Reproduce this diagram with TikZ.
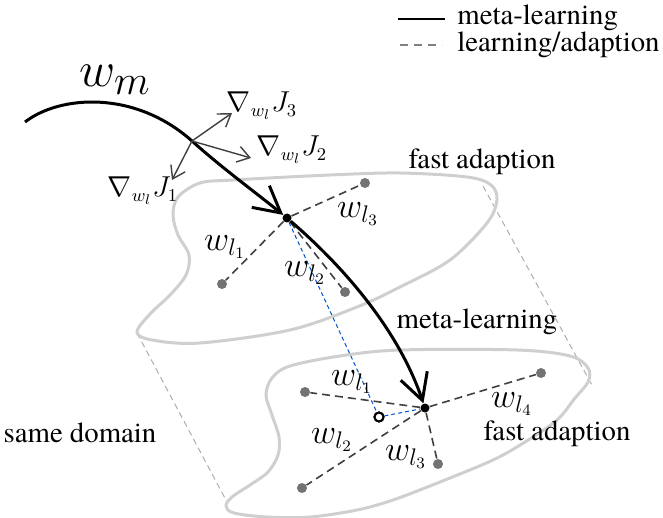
\documentclass[tikz,border=0pt]{standalone}
\usepackage{fontspec}
\setmainfont{texgyretermes}[Extension=.otf, UprightFont=*-regular, ItalicFont=*-italic, BoldFont=*-bold]
\usetikzlibrary{arrows.meta}
\begin{document}
\begin{tikzpicture}[x=0.5pt,y=-0.5pt,
  surf/.style={draw=black!19, line width=1.5pt},
  side/.style={draw=black!32, line width=0.5pt, dash pattern=on 3pt off 2pt},
  pdot/.style={circle, fill=black!55, inner sep=0pt, minimum size=5pt},
  cdot/.style={circle, fill=black, inner sep=0pt, minimum size=4.5pt},
  ring/.style={circle, draw=black, fill=white, line width=1pt, inner sep=0pt, minimum size=4.5pt},
  adapt/.style={draw=black!75, line width=0.8pt, dash pattern=on 4pt off 2.5pt},
  meta/.style={draw=black, line width=1.5pt, -{Straight Barb[length=13pt,width=14pt]}},
  grad/.style={draw=black!75, line width=0.7pt, -{Straight Barb[length=6pt,width=8pt]}},
  bluelink/.style={draw=blue!60!cyan!80!black, line width=0.5pt, dash pattern=on 2pt off 1.5pt},
  lbl/.style={font=\fontsize{14.4}{17}\selectfont, inner sep=0pt},
  mlbl/.style={font=\fontsize{17}{20}\selectfont, inner sep=0pt},
  glbl/.style={font=\fontsize{13.5}{16}\selectfont, inner sep=0pt},
]
\useasboundingbox (0,0) rectangle (663,518);

% cylinder sides joining the two task surfaces
\draw[side] (137,333) -- (227,502);
\draw[side] (483,186) -- (593,387);

% upper surface
\draw[surf] plot[smooth cycle, tension=0.55] coordinates {
  (200,183) (233,180) (330,175) (400,173) (467,177) (491,185) (497,200)
  (487,223) (450,260) (400,287) (357,307) (290,330) (200,343) (152,340)
  (137,332) (150,314) (170,295) (186,275) (189,255) (178,235) (173,215) (178,197)};

% lower surface
\draw[surf] plot[smooth cycle, tension=0.55] coordinates {
  (340,356) (400,350) (517,350) (570,356) (588,368) (588,382) (575,398)
  (557,420) (525,442) (493,460) (440,482) (393,500) (357,510) (310,517)
  (267,517) (234,513) (226,506) (232,497) (250,485) (268,472) (278,455)
  (279,437) (272,415) (266,395) (272,378) (290,366)};

% adapted parameters, upper surface
\node[cdot] (uc) at (287,218) {};
\node[pdot] (u1) at (222,284) {};
\node[pdot] (u2) at (345,292) {};
\node[pdot] (u3) at (365,183) {};
\draw[adapt] (uc) -- (u1);
\draw[adapt] (uc) -- (u2);
\draw[adapt] (uc) -- (u3);

% adapted parameters, lower surface
\node[cdot] (lc) at (425,408) {};
\node[pdot] (l1) at (305,392) {};
\node[pdot] (l2) at (302,488) {};
\node[pdot] (l3) at (438,464) {};
\node[pdot] (l4) at (541,373) {};
\draw[adapt] (lc) -- (l1);
\draw[adapt] (lc) -- (l2);
\draw[adapt] (lc) -- (l3);
\draw[adapt] (lc) -- (l4);

% projected step
\node[ring] (hc) at (379,417) {};
\draw[bluelink] (uc) -- (hc) -- (lc);
\node[ring] at (hc) {};

% meta-learning trajectory
\coordinate (ws) at (25,122);
\coordinate (g0) at (192,141);
\draw[meta] (ws) .. controls (60,95) and (135,90) .. (g0)
  .. controls (222,168) and (255,192) .. (uc);
\draw[meta] (uc) .. controls (330,255) and (395,320) .. (lc);

% task gradients
\coordinate (j1) at (172,180);
\coordinate (j2) at (251,158);
\coordinate (j3) at (232,113);
\draw[grad] (g0) -- (j1);
\draw[grad] (g0) -- (j2);
\draw[grad] (g0) -- (j3);

% labels
\node[inner sep=0pt, font=\fontsize{28}{32}\selectfont] (wm) at (115,80) {$w_m$};
\node[glbl] (t3) at (262,106) {$\nabla_{w_l}J_3$};
\node[glbl] (t2) at (292,150) {$\nabla_{w_l}J_2$};
\node[glbl] (t1) at (143,191) {$\nabla_{w_l}J_1$};

\node[mlbl] (a1) at (225,247) {$w_{l_1}$};
\node[mlbl] (a2) at (305,273) {$w_{l_2}$};
\node[mlbl] (a3) at (358,214) {$w_{l_3}$};
\node[mlbl] (b1) at (352,382) {$w_{l_1}$};
\node[mlbl] (b2) at (332,440) {$w_{l_2}$};
\node[mlbl] (b3) at (406,457) {$w_{l_3}$};
\node[mlbl] (b4) at (512,404) {$w_{l_4}$};

\node[lbl] (fa1) at (482,162) {fast adaption};
\node[lbl] (fa2) at (557,434) {fast adaption};
\node[lbl] (ml) at (477,322) {meta-learning};
\node[lbl] (sd) at (80,433) {same domain};

% legend
\coordinate (k1a) at (398,19);
\coordinate (k1b) at (445,19);
\coordinate (k2a) at (400,45);
\coordinate (k2b) at (442,45);
\draw[black, line width=1pt] (k1a) -- (k1b);
\draw[black!50, line width=0.8pt, dash pattern=on 4pt off 3pt] (k2a) -- (k2b);
\node[lbl, anchor=west] (k1) at (457,18) {meta-learning};
\node[lbl, anchor=west] (k2) at (457,45) {learning/adaption};
\end{tikzpicture}
\end{document}
